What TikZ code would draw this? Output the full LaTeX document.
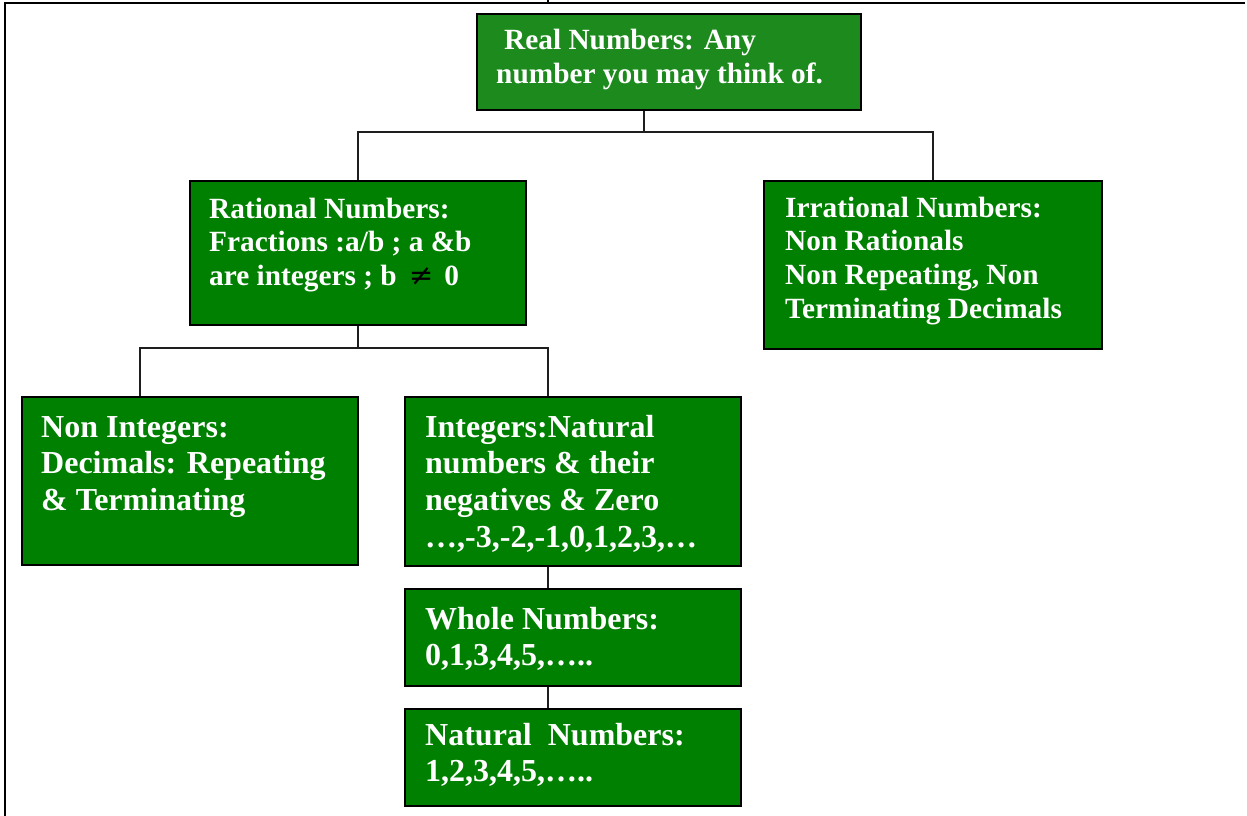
\documentclass[tikz,border=0pt]{standalone}
\usepackage{fontspec}
\setmainfont{Liberation Serif}
\newfontfamily\symfont{DejaVu Serif}
\definecolor{realgreen}{RGB}{28,138,28}
\definecolor{boxgreen}{RGB}{0,128,0}
\definecolor{linegray}{RGB}{30,30,30}
\begin{document}
\begin{tikzpicture}[x=1pt,y=-1pt,
  box/.style={draw=black, line width=2.2pt, fill=boxgreen, inner sep=0pt, anchor=north west},
  txtA/.style={anchor=base west, inner sep=0pt, text=white, font=\fontsize{29.33}{33.8}\selectfont\bfseries},
  txtB/.style={anchor=base west, inner sep=0pt, text=white, font=\fontsize{32}{36.8}\selectfont\bfseries},
  conn/.style={draw=linegray, line width=1.3pt},
  frame/.style={draw=black, line width=2pt}]
\useasboundingbox (0,0) rectangle (1247,816);
% frame
\draw[frame] (4,3) -- (1245,3);
\draw[frame] (5,2) -- (5,816);
\draw[frame] (548,0) -- (548,3);
% boxes
\node[box, fill=realgreen, minimum width=384pt, minimum height=96pt] (real) at (476,13) {};
\node[box, minimum width=336pt, minimum height=144pt] (rat) at (189,180) {};
\node[box, minimum width=338pt, minimum height=168pt] (irr) at (763,180) {};
\node[box, minimum width=336pt, minimum height=168pt] (nonint) at (21,396) {};
\node[box, minimum width=336pt, minimum height=169pt] (int) at (404,396) {};
\node[box, minimum width=336pt, minimum height=97pt] (whole) at (404,588) {};
\node[box, minimum width=336pt, minimum height=97pt] (nat) at (404,708) {};
% texts
\node[txtA] (realtxt) at (496,50) {\parbox[t]{360pt}{\raggedright\hspace*{8pt}Real Numbers: Any\\number you may think of.}};
\node[txtA] (rattxt) at (209,218) {\parbox[t]{320pt}{\raggedright Rational Numbers:\\Fractions :a/b ; a \&b\\are integers ; b\hspace{12pt}{\symfont\mdseries\color{black}≠}\hspace{11pt}0}};
\node[txtA] (irrtxt) at (785,217) {\parbox[t]{320pt}{\raggedright Irrational Numbers:\\Non Rationals\\Non Repeating, Non\\Terminating Decimals}};
\node[txtB] (noninttxt) at (41,437) {\parbox[t]{320pt}{\raggedright Non Integers:\\Decimals: Repeating\\\& Terminating}};
\node[txtB] (inttxt) at (425,437) {\parbox[t]{320pt}{\raggedright Integers:Natural\\numbers \& their\\negatives \& Zero\\…,-3,-2,-1,0,1,2,3,…}};
\node[txtB] (wholetxt) at (425,629) {\parbox[t]{320pt}{\raggedright Whole Numbers:\\0,1,3,4,5,…..}};
\node[txtB] (nattxt) at (425,745) {\parbox[t]{320pt}{\raggedright Natural\ \ Numbers:\\1,2,3,4,5,…..}};
% connectors
\coordinate (j1) at (644,132);
\coordinate (j2) at (140,348);
\coordinate (j3) at (548,348);
\draw[conn] (real.south -| j1) -- (j1);
\draw[conn] (rat.north) |- (j1) -| (irr.north);
\draw[conn] (rat.south) -- (rat.south |- j2);
\draw[conn] (nonint.north -| j2) |- (j3) -- (int.north -| j3);
\draw[conn] (int.south -| j3) -- (whole.north -| j3);
\draw[conn] (whole.south -| j3) -- (nat.north -| j3);
\end{tikzpicture}
\end{document}
